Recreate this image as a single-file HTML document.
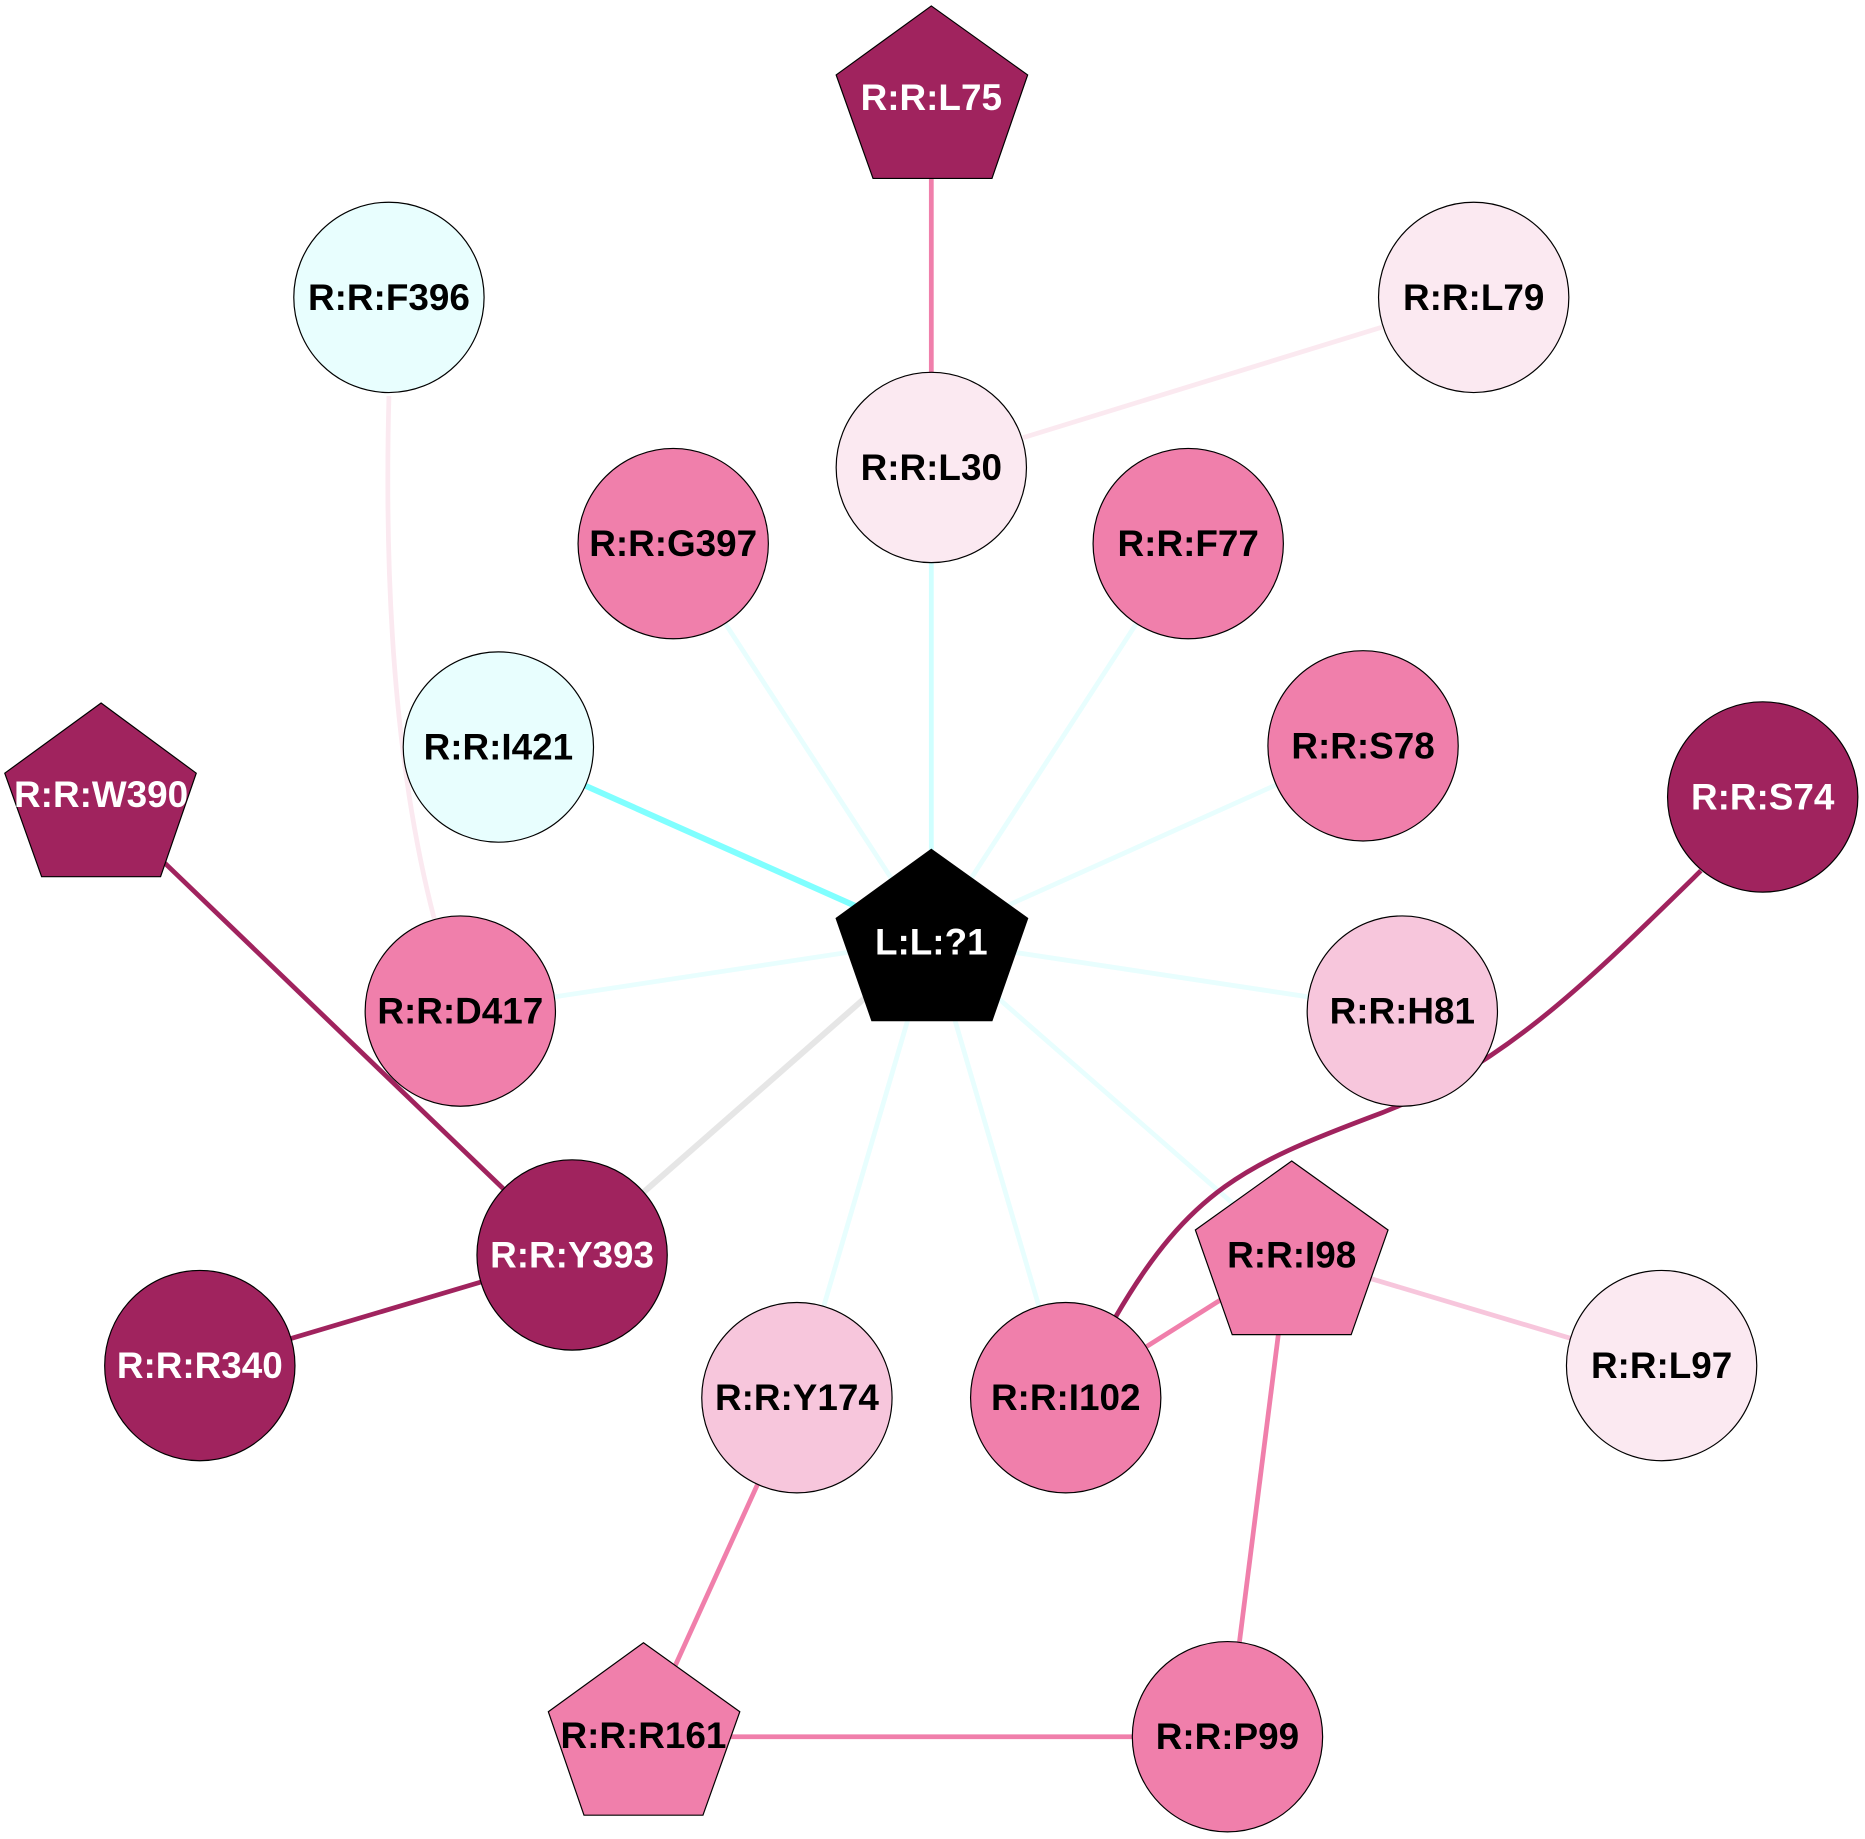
<!DOCTYPE html>
<html><head><meta charset="utf-8"><style>html,body{margin:0;padding:0;background:#fff}svg{display:block}</style></head>
<body>
<svg width="1865" height="1839" viewBox="0 0 1568 1546" preserveAspectRatio="none" xmlns="http://www.w3.org/2000/svg" font-family="Liberation Sans, sans-serif" font-weight="bold" font-size="31">
<g fill="none" stroke-width="4">
<line x1="783" y1="150" x2="783" y2="313" stroke="#f07fab"/>
<line x1="860" y1="368" x2="1162" y2="275" stroke="#fbe9f0"/>
<path d="M327,333 Q320,600 365,772" stroke="#fbe9f0"/>
<line x1="783" y1="790" x2="783" y2="473" stroke="#d0ffff"/>
<line x1="783" y1="790" x2="566" y2="457" stroke="#e8fefe"/>
<line x1="783" y1="790" x2="999" y2="457" stroke="#e8fefe"/>
<line x1="783" y1="790" x2="1146" y2="627" stroke="#e8fefe"/>
<line x1="783" y1="790" x2="387" y2="850" stroke="#e8fefe"/>
<line x1="783" y1="790" x2="1179" y2="850" stroke="#e8fefe"/>
<line x1="783" y1="790" x2="670" y2="1175" stroke="#e8fefe"/>
<line x1="783" y1="790" x2="896" y2="1175" stroke="#e8fefe"/>
<line x1="783" y1="790" x2="1086" y2="1055" stroke="#e8fefe"/>
<line x1="783" y1="790" x2="419" y2="628" stroke="#80ffff" stroke-width="5"/>
<line x1="783" y1="790" x2="481" y2="1055" stroke="#e6e6e6" stroke-width="5"/>
<line x1="138" y1="725" x2="481" y2="1055" stroke="#a0235e"/>
<line x1="168" y1="1148" x2="481" y2="1055" stroke="#a0235e"/>
<path d="M1430,732 C1330,830 1260,900 1150,940 C1050,978 1000,1000 938,1107" stroke="#a0235e"/>
<line x1="896" y1="1175" x2="1086" y2="1055" stroke="#f07fab"/>
<line x1="1086" y1="1055" x2="1397" y2="1148" stroke="#f7c6dc"/>
<line x1="1075" y1="1120" x2="1032" y2="1460" stroke="#f07fab"/>
<line x1="670" y1="1175" x2="541" y2="1459" stroke="#f07fab"/>
<line x1="541" y1="1460" x2="1032" y2="1460" stroke="#f07fab"/>
</g>
<g stroke="#000" stroke-width="1">
<polygon points="783,5 864,63 834,150 734,150 703,63" fill="#a0235e"/>
<circle cx="783" cy="393" r="80" fill="#fbe9f1"/>
<circle cx="1239" cy="250" r="80" fill="#fbe9f1"/>
<circle cx="327" cy="250" r="80" fill="#e8fefe"/>
<circle cx="566" cy="457" r="80" fill="#f07fab"/>
<circle cx="999" cy="457" r="80" fill="#f07fab"/>
<circle cx="419" cy="628" r="80" fill="#e8fefe"/>
<circle cx="1146" cy="627" r="80" fill="#f07fab"/>
<polygon points="85,591 165,650 135,737 35,737 4,650" fill="#a0235e"/>
<circle cx="1482" cy="670" r="80" fill="#a0235e"/>
<polygon points="783,714 864,772 834,858 733,858 703,772" fill="#000"/>
<circle cx="387" cy="850" r="80" fill="#f07fab"/>
<circle cx="1179" cy="850" r="80" fill="#f7c6dc"/>
<circle cx="481" cy="1055" r="80" fill="#a0235e"/>
<polygon points="1086,976 1167,1034 1136,1122 1036,1122 1005,1034" fill="#f07fab"/>
<circle cx="168" cy="1148" r="80" fill="#a0235e"/>
<circle cx="670" cy="1175" r="80" fill="#f7c6dc"/>
<circle cx="896" cy="1175" r="80" fill="#f07fab"/>
<circle cx="1397" cy="1148" r="80" fill="#fbe9f1"/>
<polygon points="541,1381 622,1439 591,1526 491,1526 461,1439" fill="#f07fab"/>
<circle cx="1032" cy="1460" r="80" fill="#f07fab"/>
</g>
<g text-anchor="middle" dominant-baseline="central">
<text x="783" y="82" fill="#fff">R:R:L75</text>
<text x="783" y="393">R:R:L30</text>
<text x="1239" y="250">R:R:L79</text>
<text x="327" y="250">R:R:F396</text>
<text x="566" y="457">R:R:G397</text>
<text x="999" y="457">R:R:F77</text>
<text x="419" y="628">R:R:I421</text>
<text x="1146" y="627">R:R:S78</text>
<text x="85" y="668" fill="#fff">R:R:W390</text>
<text x="1482" y="670" fill="#fff">R:R:S74</text>
<text x="783" y="792" fill="#fff">L:L:?1</text>
<text x="387" y="850">R:R:D417</text>
<text x="1179" y="850">R:R:H81</text>
<text x="481" y="1055" fill="#fff">R:R:Y393</text>
<text x="1086" y="1055">R:R:I98</text>
<text x="168" y="1148" fill="#fff">R:R:R340</text>
<text x="670" y="1175">R:R:Y174</text>
<text x="896" y="1175">R:R:I102</text>
<text x="1397" y="1148">R:R:L97</text>
<text x="541" y="1459">R:R:R161</text>
<text x="1032" y="1460">R:R:P99</text>
</g>
</svg>
</body></html>
